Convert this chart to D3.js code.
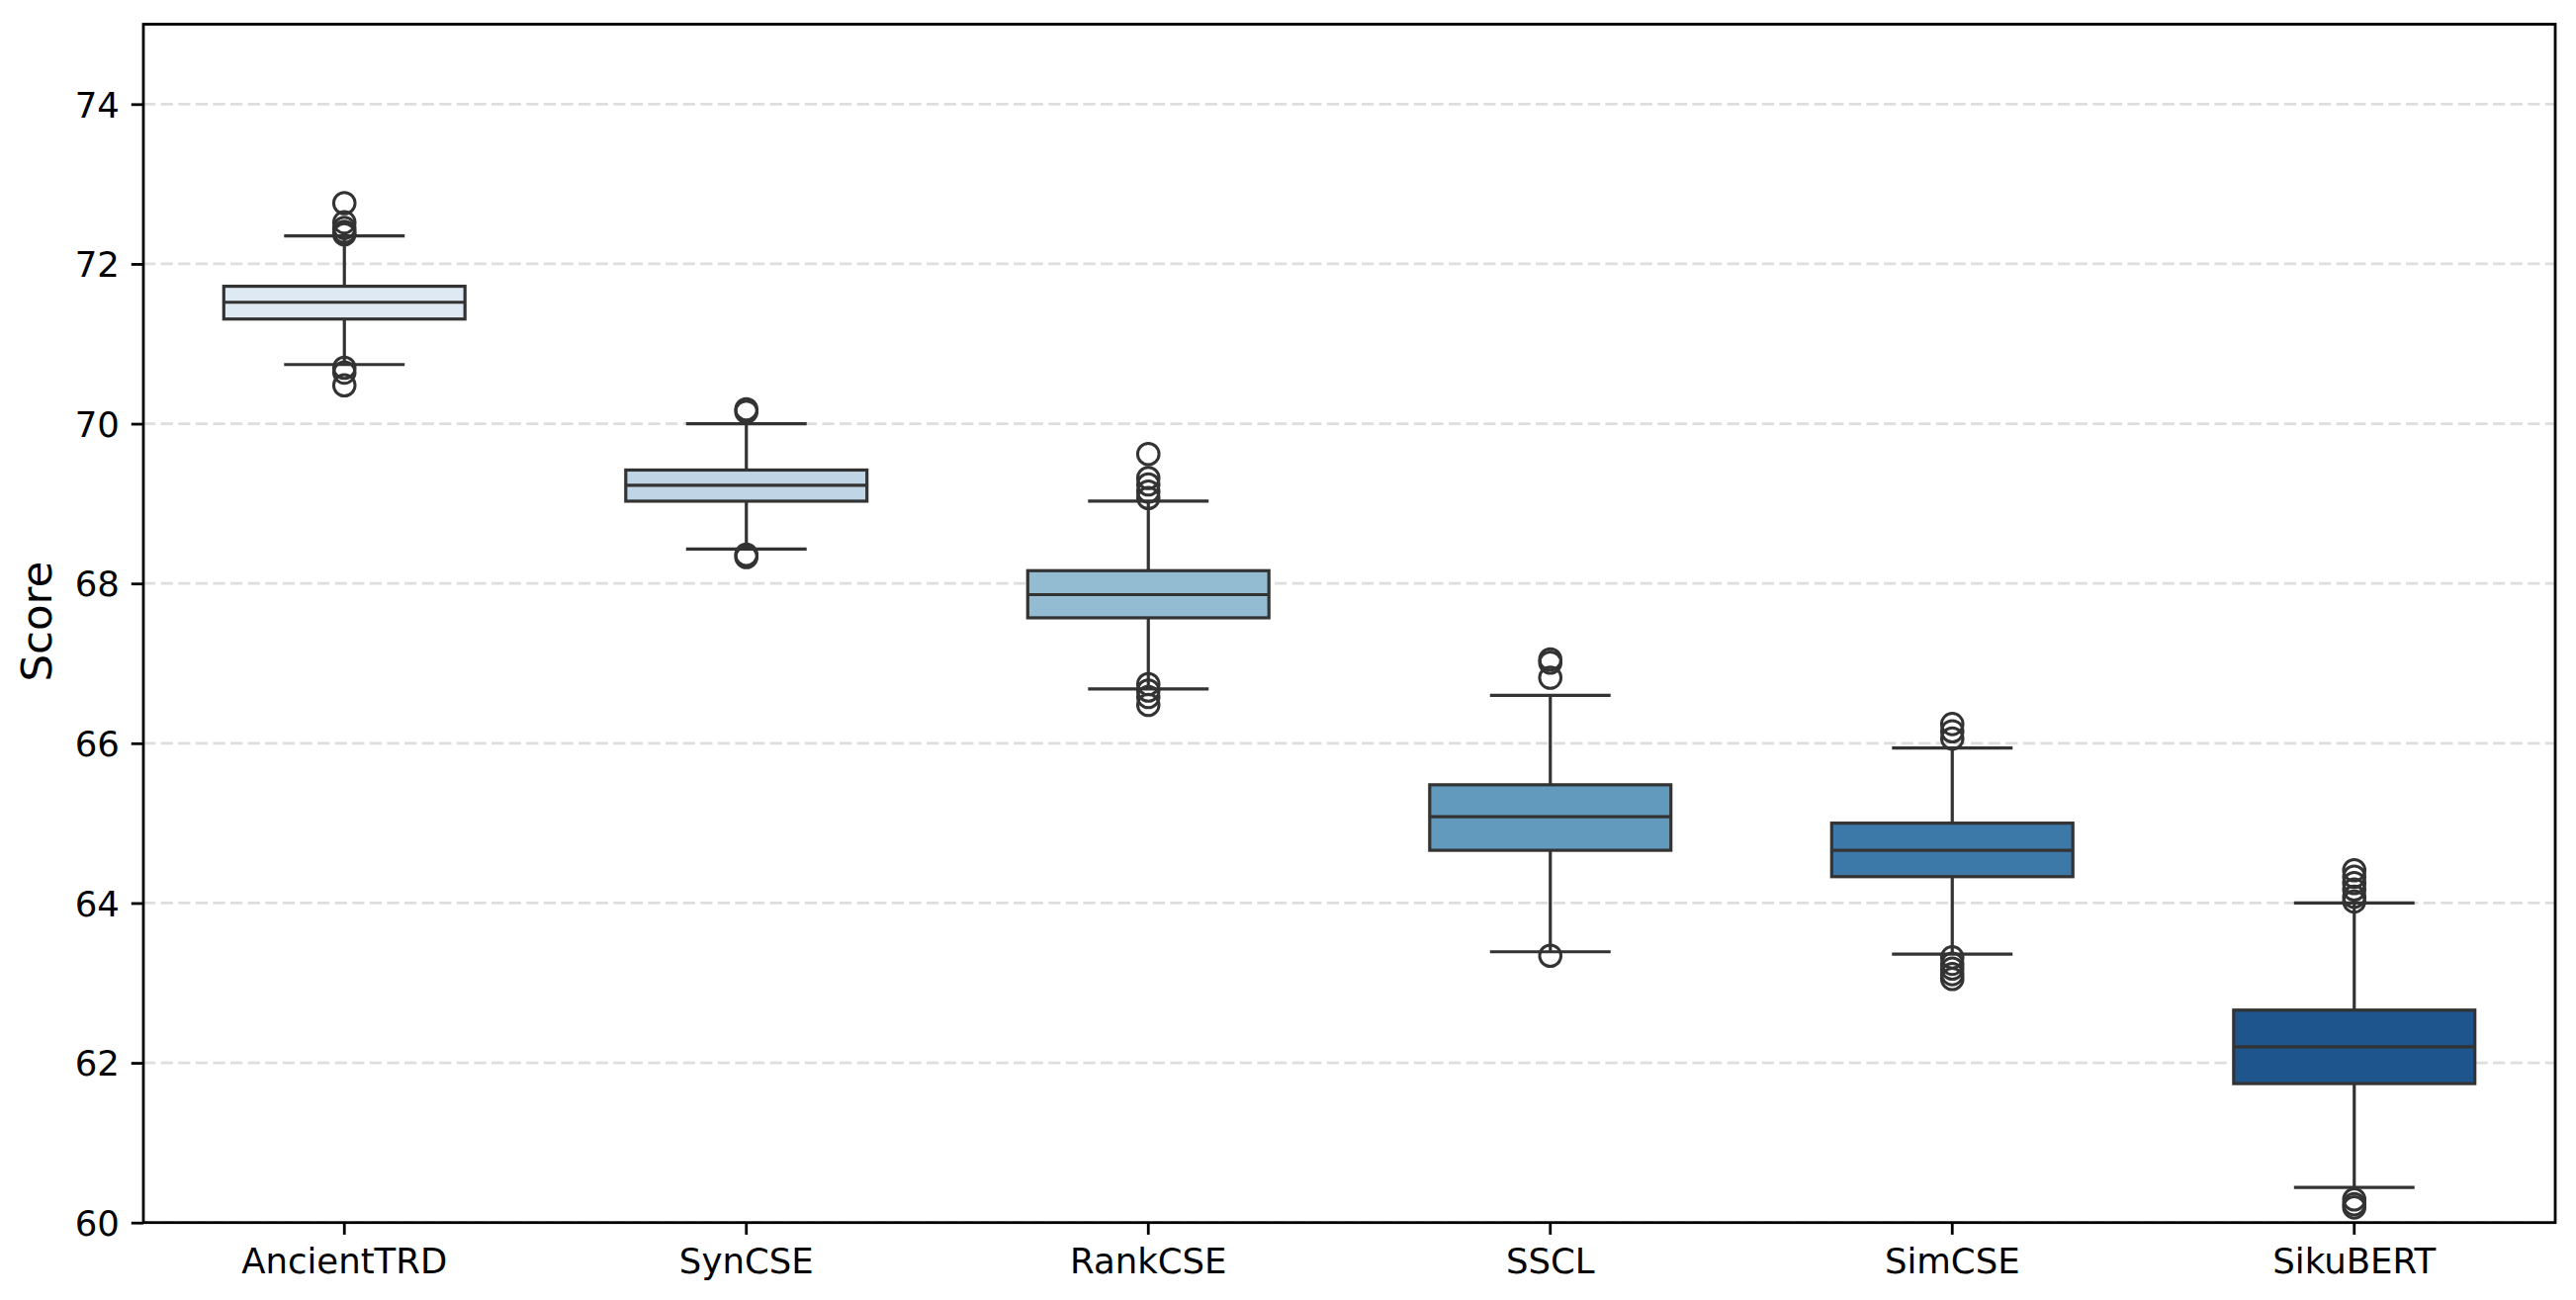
<!DOCTYPE html>
<html>
<head>
<meta charset="utf-8">
<script src="https://cdn.jsdelivr.net/npm/d3@7"></script>
<style>
  html, body { margin: 0; padding: 0; background: #ffffff; }
  svg { display: block; font-family: "DejaVu Sans", sans-serif; }
</style>
</head>
<body>
<svg id="chart" width="2605" height="1315"></svg>
<script>
// ---- data ----
const categories = ["AncientTRD", "SynCSE", "RankCSE", "SSCL", "SimCSE", "SikuBERT"];
const q1 = [71.31, 69.03, 67.57, 64.66, 64.33, 61.74];
const medians = [71.52, 69.23, 67.86, 65.08, 64.66, 62.20];
const q3 = [71.72, 69.42, 68.16, 65.48, 65.00, 62.66];
const whiskerLow = [70.74, 68.43, 66.68, 63.39, 63.36, 60.44];
const whiskerHigh = [72.35, 70.00, 69.03, 66.60, 65.94, 64.00];
const outliers = [
  [72.76, 72.52, 72.45, 72.40, 72.37, 70.70, 70.64, 70.48],
  [70.18, 70.15, 68.36, 68.33],
  [69.62, 69.32, 69.24, 69.15, 69.07, 66.74, 66.66, 66.58, 66.48],
  [67.05, 67.01, 66.82, 63.34],
  [66.24, 66.15, 66.06, 63.32, 63.24, 63.18, 63.11, 63.05],
  [64.41, 64.33, 64.25, 64.17, 64.08, 64.02, 60.29, 60.23, 60.19]
];
const yTicks = [60, 62, 64, 66, 68, 70, 72, 74];
const yDomain = [60, 75];
const boxColors = ["#dee9f3", "#c0d5e5", "#93bbd2", "#629abe", "#3d79a8", "#1e558c"];
const yLabel = "Score";

// ---- layout ----
const L = 145, R = 2584, T = 24.5, B = 1236.7;
const lineColor = "#333333";
const svg = d3.select("#chart");

const x = d3.scaleBand().domain(categories).range([L, R]).paddingInner(0).paddingOuter(0);
const y = d3.scaleLinear().domain(yDomain).range([B, T]);
const bw = x.bandwidth();
const boxW = bw * 0.6;
const capW = boxW * 0.5;
const lw = 3.2;

// grid
svg.append("g").selectAll("line").data(yTicks).join("line")
  .attr("x1", L).attr("x2", R)
  .attr("y1", d => y(d)).attr("y2", d => y(d))
  .attr("stroke", "#dedede").attr("stroke-width", 2.8)
  .attr("stroke-dasharray", "12.3,5.3");

// boxes
const data = categories.map((c, i) => ({
  c, i, q1: q1[i], med: medians[i], q3: q3[i], lo: whiskerLow[i], hi: whiskerHigh[i],
  out: outliers[i], color: boxColors[i]
}));

const g = svg.append("g");
const bx = g.selectAll("g.box").data(data).join("g").attr("class", "box");
const cx = d => x(d.c) + bw / 2;

// whiskers
bx.append("line").attr("x1", cx).attr("x2", cx)
  .attr("y1", d => y(d.q3)).attr("y2", d => y(d.hi))
  .attr("stroke", lineColor).attr("stroke-width", lw);
bx.append("line").attr("x1", cx).attr("x2", cx)
  .attr("y1", d => y(d.q1)).attr("y2", d => y(d.lo))
  .attr("stroke", lineColor).attr("stroke-width", lw);
// caps
bx.append("line").attr("x1", d => cx(d) - capW / 2).attr("x2", d => cx(d) + capW / 2)
  .attr("y1", d => y(d.hi)).attr("y2", d => y(d.hi))
  .attr("stroke", lineColor).attr("stroke-width", lw);
bx.append("line").attr("x1", d => cx(d) - capW / 2).attr("x2", d => cx(d) + capW / 2)
  .attr("y1", d => y(d.lo)).attr("y2", d => y(d.lo))
  .attr("stroke", lineColor).attr("stroke-width", lw);
// box
bx.append("rect")
  .attr("x", d => cx(d) - boxW / 2).attr("width", boxW)
  .attr("y", d => y(d.q3)).attr("height", d => y(d.q1) - y(d.q3))
  .attr("fill", d => d.color).attr("stroke", lineColor).attr("stroke-width", lw);
// median
bx.append("line").attr("x1", d => cx(d) - boxW / 2).attr("x2", d => cx(d) + boxW / 2)
  .attr("y1", d => y(d.med)).attr("y2", d => y(d.med))
  .attr("stroke", lineColor).attr("stroke-width", lw);
// outliers
bx.each(function(d) {
  d3.select(this).selectAll("circle").data(d.out).join("circle")
    .attr("cx", cx(d)).attr("cy", v => y(v)).attr("r", 10.8)
    .attr("fill", "none").attr("stroke", lineColor).attr("stroke-width", 3);
});

// axes
const yAxis = svg.append("g").attr("transform", `translate(${L},0)`)
  .call(d3.axisLeft(y).tickValues(yTicks).tickSize(12.2).tickPadding(12).tickFormat(d3.format("d")));
const xAxis = svg.append("g").attr("transform", `translate(0,${B})`)
  .call(d3.axisBottom(x).tickSize(12.2).tickPadding(12));
[yAxis, xAxis].forEach(a => {
  a.select(".domain").remove();
  a.selectAll(".tick line").attr("stroke", "#000").attr("stroke-width", 2.8);
  a.selectAll(".tick text").attr("fill", "#000").attr("font-size", 35.5)
    .attr("font-family", "DejaVu Sans, sans-serif");
});
yAxis.selectAll(".tick text").attr("dy", "0.36em");
xAxis.selectAll(".tick text").attr("dy", "0.76em");

// frame
svg.append("rect").attr("x", L).attr("y", T).attr("width", R - L).attr("height", B - T)
  .attr("fill", "none").attr("stroke", "#000").attr("stroke-width", 2.8);

// y label
svg.append("text")
  .attr("transform", `translate(${36},${(T + B) / 2 - 2}) rotate(-90)`)
  .attr("text-anchor", "middle").attr("dy", "0.36em")
  .attr("font-size", 43.5).attr("fill", "#000")
  .text(yLabel);
</script>
</body>
</html>
